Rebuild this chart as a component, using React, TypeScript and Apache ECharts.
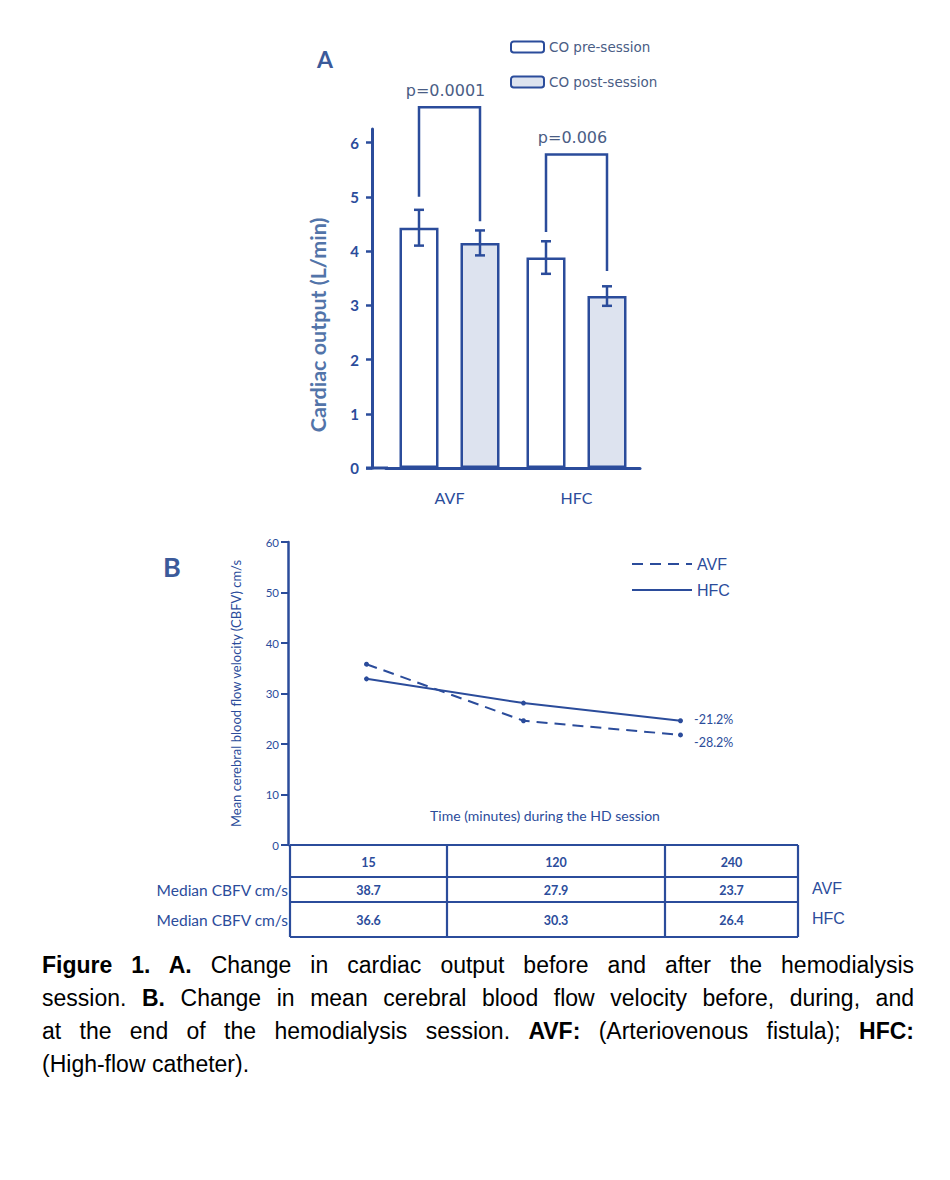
import React, { useEffect, useRef } from "react";
import * as echarts from "echarts";

// ---------- Panel A data ----------
const coCategories = ["AVF", "HFC"];
const coPre = [4.43, 3.88];
const coPreErr = [0.33, 0.3];
const coPost = [4.15, 3.17];
const coPostErr = [0.23, 0.18];
const bracketLeft = [5.0, 4.35];
const bracketRight = [4.55, 3.63];
const bracketTop = [6.65, 5.78];
const pLabels = ["p=0.0001", "p=0.006"];
const coTicks = [0, 1, 2, 3, 4, 5, 6];

// ---------- Panel B data ----------
const timeCats = ["15", "120", "240"];
const avfMean = [35.8, 24.6, 21.8];
const hfcMean = [32.9, 28.1, 24.6];
const avfEndLabel = "-28.2%";
const hfcEndLabel = "-21.2%";
const avfMedian = ["38.7", "27.9", "23.7"];
const hfcMedian = ["36.6", "30.3", "26.4"];
const rowLabel = "Median CBFV cm/s";

const DARK = "#2b4c9b";
const FILL_POST = "#dde3ef";
const FONT = "Lato, 'Noto Sans', sans-serif";

export default function App() {
  const ref = useRef<HTMLDivElement>(null);

  useEffect(() => {
    if (!ref.current) return;
    const chart = echarts.init(ref.current, null, { renderer: "svg" });

    const barW = 39;
    const gapPx = 22;
    const half = (barW + gapPx) / 2;

    const errRender = (offset: number) => (params: any, api: any) => {
      const cat = api.value(0);
      const lo = api.coord([cat, api.value(1)]);
      const hi = api.coord([cat, api.value(2)]);
      const x = lo[0] + offset;
      const st = { stroke: DARK, lineWidth: 2.5 };
      return {
        type: "group",
        children: [
          { type: "line", shape: { x1: x, y1: lo[1], x2: x, y2: hi[1] }, style: st },
          { type: "line", shape: { x1: x - 5, y1: lo[1], x2: x + 5, y2: lo[1] }, style: st },
          { type: "line", shape: { x1: x - 5, y1: hi[1], x2: x + 5, y2: hi[1] }, style: st },
        ],
      };
    };

    // table graphic
    const colX = [290, 447, 665, 798];
    const rowY = [845, 877, 902, 937];
    const tableEls: any[] = [];
    const ls = { stroke: DARK, lineWidth: 2.2 };
    rowY.forEach((y) =>
      tableEls.push({ type: "line", shape: { x1: colX[0], y1: y, x2: colX[3], y2: y }, style: ls })
    );
    colX.forEach((x) =>
      tableEls.push({ type: "line", shape: { x1: x, y1: rowY[0], x2: x, y2: rowY[3] }, style: ls })
    );
    const rows = [timeCats, avfMedian, hfcMedian];
    rows.forEach((row, r) => {
      row.forEach((t, c) => {
        tableEls.push({
          type: "text",
          x: (colX[c] + colX[c + 1]) / 2,
          y: (rowY[r] + rowY[r + 1]) / 2 + 1,
          style: {
            text: t,
            fill: DARK,
            font: `bold 12.5px ${FONT}`,
            align: "center",
            verticalAlign: "middle",
          },
        });
      });
    });
    [1, 2].forEach((r) => {
      tableEls.push({
        type: "text",
        x: colX[0] - 2,
        y: (rowY[r] + rowY[r + 1]) / 2,
        style: { text: rowLabel, fill: DARK, font: `15.5px ${FONT}`, align: "right", verticalAlign: "middle" },
      });
      tableEls.push({
        type: "text",
        x: 812,
        y: (rowY[r] + rowY[r + 1]) / 2 - 1,
        style: {
          text: r === 1 ? "AVF" : "HFC",
          fill: DARK,
          font: `16px 'Liberation Sans', Arial, sans-serif`,
          align: "left",
          verticalAlign: "middle",
        },
      });
    });

    const option: any = {
      animation: false,
      textStyle: { fontFamily: FONT },
      grid: [
        { left: 386, top: 129, width: 254, height: 339 },
        { left: 288, top: 542, width: 471, height: 303 },
      ],
      legend: [
        {
          data: ["CO pre-session", "CO post-session"],
          orient: "vertical",
          left: 505,
          top: 35,
          itemWidth: 33,
          itemHeight: 11,
          itemGap: 21,
          textStyle: { fontSize: 13.5, color: "#4a5d85", fontFamily: "'DejaVu Sans', sans-serif" },
        },
        {
          data: ["AVF", "HFC"],
          orient: "vertical",
          left: 626,
          top: 551,
          itemWidth: 60,
          itemHeight: 14,
          itemGap: 10,
          itemStyle: { opacity: 0 },
          textStyle: { fontSize: 16, color: DARK, fontFamily: "'Liberation Sans', Arial, sans-serif" },
        },
      ],
      xAxis: [
        {
          gridIndex: 0,
          type: "category",
          data: coCategories,
          axisLine: { lineStyle: { color: DARK, width: 3 } },
          axisTick: { show: false },
          axisLabel: { color: DARK, fontSize: 16, margin: 21, fontFamily: FONT },
        },
        {
          gridIndex: 1,
          type: "category",
          data: timeCats,
          axisLine: { show: false },
          axisTick: { show: false },
          axisLabel: { show: false },
        },
      ],
      yAxis: [
        {
          gridIndex: 0,
          type: "value",
          min: 0,
          max: 6.25,
          interval: 1,
          offset: 14,
          splitLine: { show: false },
          axisLine: { show: true, lineStyle: { color: DARK, width: 3 } },
          axisTick: { show: true, length: 6, lineStyle: { color: DARK, width: 2.5 }, customValues: coTicks },
          axisLabel: {
            color: DARK,
            fontSize: 15,
            fontWeight: "bold",
            margin: 13,
            fontFamily: FONT,
            customValues: coTicks,
          },
        },
        {
          gridIndex: 1,
          type: "value",
          min: 0,
          max: 60,
          interval: 10,
          splitLine: { show: false },
          axisLine: { show: true, lineStyle: { color: DARK, width: 2.5 } },
          axisTick: { show: true, length: 7, lineStyle: { color: DARK, width: 2 } },
          axisLabel: { color: DARK, fontSize: 11.5, margin: 9, fontFamily: FONT },
          name: "Mean cerebral blood flow velocity (CBFV) cm/s",
          nameLocation: "middle",
          nameGap: 46,
          nameRotate: 90,
          nameTextStyle: { color: DARK, fontSize: 13, fontFamily: FONT },
        },
      ],
      series: [
        {
          name: "CO pre-session",
          type: "bar",
          xAxisIndex: 0,
          yAxisIndex: 0,
          data: coPre,
          barWidth: barW,
          barGap: `${(gapPx / barW) * 100}%`,
          itemStyle: { color: "#ffffff", borderColor: DARK, borderWidth: 2.5 },
        },
        {
          name: "CO post-session",
          type: "bar",
          xAxisIndex: 0,
          yAxisIndex: 0,
          data: coPost,
          barWidth: barW,
          itemStyle: { color: FILL_POST, borderColor: DARK, borderWidth: 2.5 },
        },
        {
          type: "custom",
          xAxisIndex: 0,
          yAxisIndex: 0,
          renderItem: errRender(-half),
          data: coPre.map((v, i) => [i, v - coPreErr[i], v + coPreErr[i]]),
          encode: { x: 0, y: [1, 2] },
          z: 5,
        },
        {
          type: "custom",
          xAxisIndex: 0,
          yAxisIndex: 0,
          renderItem: errRender(half),
          data: coPost.map((v, i) => [i, v - coPostErr[i], v + coPostErr[i]]),
          encode: { x: 0, y: [1, 2] },
          z: 5,
        },
        {
          type: "custom",
          xAxisIndex: 0,
          yAxisIndex: 0,
          clip: false,
          renderItem: (params: any, api: any) => {
            const i = params.dataIndex;
            const c = api.value(0);
            const l = api.coord([c, api.value(1)]);
            const r = api.coord([c, api.value(2)]);
            const t = api.coord([c, api.value(3)]);
            const xl = l[0] - half;
            const xr = l[0] + half;
            const st = { stroke: DARK, lineWidth: 2.5, fill: "none" };
            return {
              type: "group",
              children: [
                {
                  type: "polyline",
                  shape: { points: [[xl, l[1]], [xl, t[1]], [xr, t[1]], [xr, r[1]]] },
                  style: st,
                },
                {
                  type: "text",
                  x: l[0] - 4,
                  y: t[1] - 9,
                  style: {
                    text: pLabels[i],
                    fill: "#4a5d85",
                    font: "16px 'DejaVu Sans', sans-serif",
                    align: "center",
                    verticalAlign: "bottom",
                  },
                },
              ],
            };
          },
          data: coCategories.map((_, i) => [i, bracketLeft[i], bracketRight[i], bracketTop[i]]),
          encode: { x: 0, y: [1, 2, 3] },
          z: 5,
        },
        {
          name: "AVF",
          type: "line",
          xAxisIndex: 1,
          yAxisIndex: 1,
          data: avfMean.map((v, i) =>
            i === avfMean.length - 1
              ? {
                  value: v,
                  label: {
                    show: true,
                    position: "right",
                    formatter: avfEndLabel,
                    offset: [6, 8],
                    color: DARK,
                    fontSize: 12.5,
                    fontFamily: FONT,
                  },
                }
              : v
          ),
          symbol: "circle",
          symbolSize: 5,
          itemStyle: { color: DARK },
          lineStyle: { color: DARK, width: 2, type: [11, 7] },
        },
        {
          name: "HFC",
          type: "line",
          xAxisIndex: 1,
          yAxisIndex: 1,
          data: hfcMean.map((v, i) =>
            i === hfcMean.length - 1
              ? {
                  value: v,
                  label: {
                    show: true,
                    position: "right",
                    formatter: hfcEndLabel,
                    offset: [6, -1],
                    color: DARK,
                    fontSize: 12.5,
                    fontFamily: FONT,
                  },
                }
              : v
          ),
          symbol: "circle",
          symbolSize: 5,
          itemStyle: { color: DARK },
          lineStyle: { color: DARK, width: 2 },
        },
      ],
      graphic: [
        {
          type: "line",
          shape: { x1: 366, y1: 468, x2: 388, y2: 468 },
          style: { stroke: DARK, lineWidth: 3 },
        },
        {
          type: "text",
          x: 318,
          y: 325,
          rotation: Math.PI / 2,
          style: {
            text: "Cardiac output (L/min)",
            fill: "#5274a9",
            font: `bold 21.5px ${FONT}`,
            align: "center",
            verticalAlign: "middle",
          },
        },
        {
          type: "text",
          x: 325,
          y: 59,
          style: { text: "A", fill: "#3b5a9a", font: `bold 23px ${FONT}`, align: "center", verticalAlign: "middle" },
        },
        {
          type: "text",
          x: 172,
          y: 566,
          style: { text: "B", fill: "#3b5a9a", font: `bold 27px ${FONT}`, align: "center", verticalAlign: "middle" },
        },
        {
          type: "text",
          x: 545,
          y: 815,
          style: {
            text: "Time (minutes) during the HD session",
            fill: DARK,
            font: `14px ${FONT}`,
            align: "center",
            verticalAlign: "middle",
          },
        },
        ...tableEls,
      ],
    };

    chart.setOption(option);
    return () => chart.dispose();
  }, []);

  const lineStyle: React.CSSProperties = { textAlign: "justify", textAlignLast: "justify", whiteSpace: "nowrap" };

  return (
    <div style={{ position: "absolute", left: 0, top: 0, width: 950, height: 1180, background: "#fff" }}>
      <div ref={ref} style={{ position: "absolute", left: 0, top: 0, width: 950, height: 940 }} />
      <div
        style={{
          position: "absolute",
          left: 42,
          top: 949,
          width: 872,
          fontFamily: "'Liberation Sans', Arial, sans-serif",
          fontSize: 23,
          lineHeight: "33px",
          color: "#000",
        }}
      >
        <div style={lineStyle}>
          <b>Figure 1. A.</b> Change in cardiac output before and after the hemodialysis
        </div>
        <div style={lineStyle}>
          session. <b>B.</b> Change in mean cerebral blood flow velocity before, during, and
        </div>
        <div style={lineStyle}>
          at the end of the hemodialysis session. <b>AVF:</b> (Arteriovenous fistula); <b>HFC:</b>
        </div>
        <div>(High-flow catheter).</div>
      </div>
    </div>
  );
}
